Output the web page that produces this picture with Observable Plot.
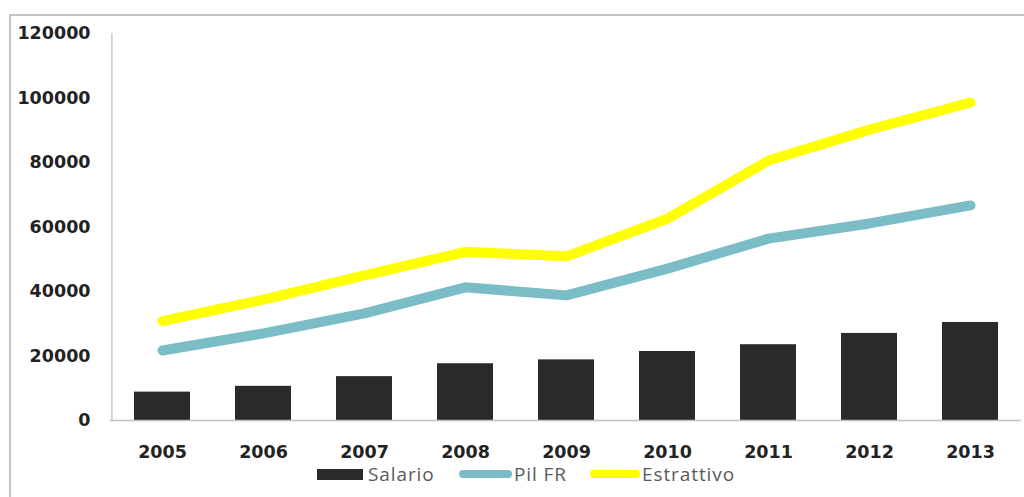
<!DOCTYPE html>
<html>
<head>
<meta charset="utf-8">
<script src="https://cdn.jsdelivr.net/npm/d3@7"></script>
<script src="https://cdn.jsdelivr.net/npm/@observablehq/plot@0.6"></script>
<style>
  html, body { margin: 0; padding: 0; background: #fff; }
  #wrap { position: relative; width: 1024px; height: 497px; overflow: hidden; background: #fff; }
  #frame { position: absolute; left: 9px; top: 14px; width: 1030px; height: 520px; border-left: 2px solid #c4c4c4; border-top: 2px solid #c4c4c4; box-sizing: border-box; pointer-events: none; }
  #chart { position: absolute; left: 0; top: 0; }
  .lg { position: absolute; font-family: "Open Sans", sans-serif; font-size: 19px; color: #5a5a5a; letter-spacing: 0.9px; line-height: 17px; }
  .sw { position: absolute; }
</style>
</head>
<body>
<div id="wrap">
  <div id="frame"></div>
  <div id="chart"></div>
  <div id="legend"></div>
</div>
<script>
const years = ["2005","2006","2007","2008","2009","2010","2011","2012","2013"];
const salario = [8800, 10600, 13600, 17600, 18800, 21400, 23500, 27000, 30400];
const pilFR = [21700, 27000, 33200, 41300, 38800, 47100, 56400, 61100, 66700];
const estrattivo = [30800, 37500, 45000, 52300, 50900, 62600, 80600, 90200, 98600];
const yTicks = [0, 20000, 40000, 60000, 80000, 100000, 120000];
const seriesNames = ["Salario", "Pil FR", "Estrattivo"];
const seriesColors = ["#2a2a2a", "#7bbdc6", "#ffff00"];

const barData = years.map((y, i) => ({year: y, value: salario[i]}));
const pilData = years.map((y, i) => ({year: y, value: pilFR[i]}));
const estData = years.map((y, i) => ({year: y, value: estrattivo[i]}));

const chart = Plot.plot({
  width: 1024,
  height: 462,
  marginLeft: 110,
  marginRight: 3,
  marginTop: 33,
  marginBottom: 42,
  style: {fontFamily: "DejaVu Sans, sans-serif", fontSize: "17.5px", fontWeight: "bold", color: "#222", background: "transparent"},
  x: {domain: years, paddingInner: 0.45, paddingOuter: 0.225, label: null},
  y: {domain: [0, 120000], label: null},
  marks: [
    Plot.axisY({ticks: yTicks, tickFormat: d3.format("d"), tickSize: 0, tickPadding: 20, label: null, fill: "#222"}),
    Plot.axisX({tickSize: 0, tickPadding: 25, label: null, fill: "#222"}),
    Plot.barY(barData, {x: "year", y: "value", fill: seriesColors[0]}),
    Plot.ruleY([0], {stroke: "#c0c0c0", strokeWidth: 1.5}),
    Plot.ruleX([years[0]], {y1: 0, y2: 120000, stroke: "#c8c8c8", strokeWidth: 1.5, dx: -50.6}),
    Plot.line(pilData, {x: "year", y: "value", stroke: seriesColors[1], strokeWidth: 10, strokeLinecap: "round", strokeLinejoin: "round"}),
    Plot.line(estData, {x: "year", y: "value", stroke: seriesColors[2], strokeWidth: 10, strokeLinecap: "round", strokeLinejoin: "round"})
  ]
});
document.getElementById("chart").appendChild(chart);

// legend (HTML, below the axis labels)
const legend = document.getElementById("legend");
const items = [
  {sx: 317, sw: 46, sh: 11, r: 0, tx: 368},
  {sx: 459, sw: 53, sh: 8, r: 4, tx: 514},
  {sx: 590, sw: 50, sh: 8, r: 4, tx: 642}
];
items.forEach((it, i) => {
  const s = document.createElement("div");
  s.className = "sw";
  s.style.left = it.sx + "px";
  s.style.top = (474 - it.sh / 2) + "px";
  s.style.width = it.sw + "px";
  s.style.height = it.sh + "px";
  s.style.borderRadius = it.r + "px";
  s.style.background = seriesColors[i];
  legend.appendChild(s);
  const t = document.createElement("div");
  t.className = "lg";
  t.style.left = it.tx + "px";
  t.style.top = "466px";
  t.textContent = seriesNames[i];
  legend.appendChild(t);
});
</script>
</body>
</html>
